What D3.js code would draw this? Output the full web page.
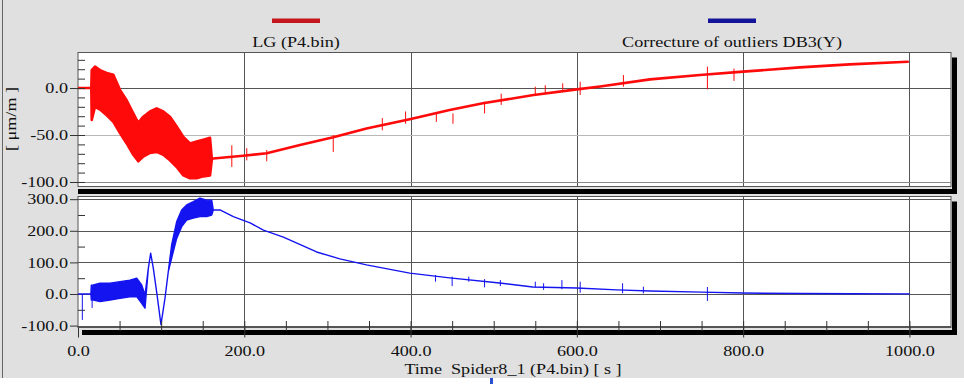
<!DOCTYPE html>
<html>
<head>
<meta charset="utf-8">
<script src="https://cdn.jsdelivr.net/npm/d3@7"></script>
<style>
  html, body { margin: 0; padding: 0; background: #fff; }
  svg text { font-family: "Liberation Serif", "Times New Roman", serif; fill: #111; }
</style>
</head>
<body>
<svg id="chart" width="964" height="384"></svg>
<script>
// ── Data ──────────────────────────────────────────────────────────────────

// LG (P4.bin): time [s], lower / upper edge of the trace [µm/m]
const lgTime = [0, 16, 16.5, 20.4, 26.5, 34.5, 42.5, 50.5, 58.5, 66.5, 72.5, 78.5, 86.6, 94.6, 102.6, 110.6, 118.7, 126.7, 134.7, 142.7, 150.7, 158.8, 161, 162.6, 198.8, 227, 267, 307, 347, 399, 447, 487, 548, 600, 628, 688, 748, 800, 868, 928, 998];
const lgLow  = [0, 0, -34, -20, -23, -29, -36, -48, -59, -71, -78, -73, -69, -68, -71, -77, -84, -93, -96, -96, -94, -93, -76, -75, -72, -69.5, -60.6, -52.5, -43, -33.3, -23.4, -16.3, -7.4, -1.4, 1.6, 9.2, 13.8, 17.4, 22, 25.2, 28];
const lgHigh = [0, 0, 19, 22.7, 19, 16, 14, -2, -13, -27, -37, -30.5, -25, -21.6, -25, -30.5, -41, -52, -59, -57, -55, -53, -76, -75, -72, -69.5, -60.6, -52.5, -43, -33.3, -23.4, -16.3, -7.4, -1.4, 1.6, 9.2, 13.8, 17.4, 22, 25.2, 28];
// single outlier spikes: [time, from, to]
const lgSpikes = [[185, -61, -84], [203, -64, -77], [227, -66, -78], [307, -50, -68], [366, -32, -45], [394, -25, -38], [431, -27, -36], [451, -27, -38], [489, -14.5, -27], [509, -6, -18], [550, 1.4, -7.4], [562, 3, -6], [583, 5, -4], [604, 6.7, -7.4], [656, 13.8, 1.4], [757, 22.7, -1.4], [789, 20.6, 7.6]];

// Correcture of outliers DB3(Y)
const db3Time = [0, 15.5, 16, 18.4, 26.5, 38.5, 50.5, 62.5, 70.6, 76.6, 80.6, 84.6, 87.4, 90.6, 94.6, 99.8, 104.6, 108.6, 112.6, 118.7, 124.7, 130.7, 138.7, 146.7, 154.8, 160.8, 162.7, 170.8, 186.8, 202.9, 207, 223, 247, 287, 315, 347, 399, 447, 507, 547, 600, 648, 688, 750, 800, 870, 930, 1000];
const db3Low  = [0, 0, -19, -19, -24, -19, -14, -8.5, -8.5, -29.5, -45, 81, 129, 81, 7, -97, -14, 71, 113, 176, 213, 234, 240, 245, 245, 250, 266, 266, 245, 229, 225, 202, 180, 133, 111, 92, 66, 51, 35, 22, 19, 13, 9.5, 6, 3, 1.5, 1, 0.5];
const db3High = [0, 0, 28, 28.5, 34, 34, 39, 44, 50, 28.5, -3, 81, 129, 81, 7, -97, -14, 71, 155, 229, 266, 282, 292, 303, 297, 297, 266, 266, 245, 229, 225, 202, 180, 133, 111, 92, 66, 51, 35, 22, 19, 13, 9.5, 6, 3, 1.5, 1, 0.5];
const db3Spikes = [[5.2, 0, -82], [17, 0, -44], [430, 60, 39], [450, 55, 25], [470, 55, 39], [489, 47, 21], [508, 44, 25], [550, 39, 21], [560, 34, 13], [582, 44, 15], [604, 39, 4], [655, 34, 2], [680, 23, 2], [757, 22, -22]];

// Ticks
const xMajor = [0, 200, 400, 600, 800, 1000];
const xMinor = d3.range(50, 1050, 50);
const yTopMajor = [0, -50, -100];
const yTopMinor = d3.range(30, -110, -10);
const yBotMajor = [300, 200, 100, 0, -100];
const yBotMinor = [250, 150, 50, -50];

const legendNames = ["LG (P4.bin)", "Correcture of outliers DB3(Y)"];
const xTitle = "Time  Spider8_1 (P4.bin) [ s ]";
const yTitle = "[ \u03bcm/m ]";

// ── Layout ────────────────────────────────────────────────────────────────

const W = 964, H = 384;
const X0 = 78, X1 = 951;
const TOP = { y0: 52.5, y1: 186.5, shadowX: X0 };
const BOT = { y0: 196.5, y1: 327.5, shadowX: X0 + 4 };
const TX = "scale(1.25,1)";   // text in the source is stretched horizontally

const x = d3.scaleLinear().domain([0, 1050]).range([X0, X1]);
const yTop = d3.scaleLinear().domain([-104.8, 37.8]).range([TOP.y1, TOP.y0]);
const yBot = d3.scaleLinear().domain([-106, 308.5]).range([BOT.y1, BOT.y0]);

const svg = d3.select("#chart");

// background + frame
svg.append("rect").attr("width", W).attr("height", H).attr("fill", "#fff");
svg.append("rect").attr("width", W).attr("height", 378).attr("fill", "#e0e0e0");
svg.append("line").attr("x1", 2.5).attr("x2", 2.5).attr("y1", 0).attr("y2", 378)
  .attr("stroke", "#666").attr("stroke-width", 1);
svg.append("rect").attr("x", 490).attr("y", 378).attr("width", 3).attr("height", 6).attr("fill", "#2a4fd0");

const defs = svg.append("defs");

function panel(p, id) {
  // drop shadow
  svg.append("rect").attr("x", p.shadowX).attr("y", p.y1 + 2.5).attr("width", X1 - p.shadowX + 6).attr("height", 5).attr("fill", "#000");
  svg.append("rect").attr("x", X1 + 1).attr("y", p.y0 + 5).attr("width", 5).attr("height", p.y1 - p.y0 + 2.5).attr("fill", "#000");
  svg.append("rect").attr("x", X0).attr("y", p.y0).attr("width", X1 - X0).attr("height", p.y1 - p.y0)
    .attr("fill", "#fff").attr("stroke", "#555").attr("stroke-width", 1);
  defs.append("clipPath").attr("id", id).append("rect")
    .attr("x", X0).attr("y", p.y0).attr("width", X1 - X0).attr("height", p.y1 - p.y0);
}
panel(TOP, "clipTop");
panel(BOT, "clipBot");

// gridlines
function vGrid(p) {
  svg.append("g").selectAll("line").data(xMajor.slice(1)).join("line")
    .attr("x1", d => Math.round(x(d)) + 0.5).attr("x2", d => Math.round(x(d)) + 0.5)
    .attr("y1", p.y0).attr("y2", p.y1)
    .attr("stroke", "#555").attr("stroke-width", 1);
}
vGrid(TOP);
vGrid(BOT);

svg.append("g").selectAll("line").data(yTopMajor).join("line")
  .attr("x1", X0).attr("x2", X1)
  .attr("y1", d => Math.round(yTop(d)) + 0.5).attr("y2", d => Math.round(yTop(d)) + 0.5)
  .attr("stroke", d => d === -50 ? "#b8b8b8" : d === 0 ? "#555" : "#888").attr("stroke-width", 1);

svg.append("g").selectAll("line").data(yBotMajor).join("line")
  .attr("x1", X0).attr("x2", X1)
  .attr("y1", d => Math.round(yBot(d)) + 0.5).attr("y2", d => Math.round(yBot(d)) + 0.5)
  .attr("stroke", "#555").attr("stroke-width", 1);

// ── Series ────────────────────────────────────────────────────────────────

function drawSeries(time, low, high, spikes, y, clip, color, width) {
  const rows = time.map((t, i) => ({ t, lo: low[i], hi: high[i] }));
  const g = svg.append("g").attr("clip-path", `url(#${clip})`);
  const area = d3.area().x(d => x(d.t)).y0(d => y(d.lo)).y1(d => y(d.hi));
  g.append("path").datum(rows).attr("d", area)
    .attr("fill", color).attr("stroke", color)
    .attr("stroke-width", width).attr("stroke-linejoin", "round");
  g.selectAll("line.spike").data(spikes).join("line").attr("class", "spike")
    .attr("x1", d => x(d[0])).attr("x2", d => x(d[0]))
    .attr("y1", d => y(d[1])).attr("y2", d => y(d[2]))
    .attr("stroke", color).attr("stroke-width", 1);
}
drawSeries(lgTime, lgLow, lgHigh, lgSpikes, yTop, "clipTop", "#ff0a0a", 2.6);
drawSeries(db3Time, db3Low, db3High, db3Spikes, yBot, "clipBot", "#1414f0", 1.4);

// ── Axes ──────────────────────────────────────────────────────────────────

const fmt = d => d.toFixed(1);

function styleAxis(g) {
  g.select(".domain").remove();
  g.selectAll("line").attr("stroke", "#333");
  g.selectAll("text").attr("font-size", 14.5).attr("fill", "#111")
    .style("font-family", '"Liberation Serif", serif');
}

function leftAxis(y, major, minor) {
  svg.append("g").attr("transform", `translate(${X0},0)`)
    .call(d3.axisLeft(y).tickValues(major).tickSize(8).tickPadding(2).tickFormat(fmt))
    .call(styleAxis)
    .call(g => g.selectAll("text").attr("x", -8).attr("transform", TX));
  svg.append("g").attr("transform", `translate(${X0},0)`)
    .call(d3.axisLeft(y).tickValues(minor).tickSize(-7).tickFormat(""))
    .call(styleAxis);
}
leftAxis(yTop, yTopMajor, yTopMinor);
leftAxis(yBot, yBotMajor, yBotMinor);

svg.append("g").attr("transform", `translate(0,${BOT.y1})`)
  .call(d3.axisBottom(x).tickValues(xMajor).tickSize(10).tickPadding(0).tickFormat(fmt))
  .call(styleAxis)
  .call(g => g.selectAll("text").attr("y", 0).attr("dy", 0)
    .attr("transform", `translate(0,28) ${TX}`));
svg.append("g").attr("transform", `translate(0,${BOT.y1 + 3.5})`)
  .call(d3.axisBottom(x).tickValues(xMinor).tickSize(-10).tickFormat(""))
  .call(styleAxis);

// titles
svg.append("text").attr("transform", `translate(513,374) ${TX}`)
  .attr("text-anchor", "middle").attr("font-size", 14.5).style("white-space", "pre")
  .text(xTitle);
svg.append("text").attr("transform", `translate(16,119) rotate(-90) ${TX}`)
  .attr("text-anchor", "middle").attr("font-size", 14.5)
  .text(yTitle);

// ── Legend ────────────────────────────────────────────────────────────────

const legendColors = ["#c4161c", "#14149a"];
const legendX = [296, 732];
const legend = svg.append("g").selectAll("g").data(legendNames).join("g")
  .attr("transform", (d, i) => `translate(${legendX[i]},0)`);
legend.append("rect").attr("x", -24).attr("y", 18.5).attr("width", 48).attr("height", 4.5)
  .attr("fill", (d, i) => legendColors[i]);
legend.append("text").attr("transform", `translate(0,47) ${TX}`)
  .attr("text-anchor", "middle").attr("font-size", 14.5).text(d => d);
</script>
</body>
</html>
